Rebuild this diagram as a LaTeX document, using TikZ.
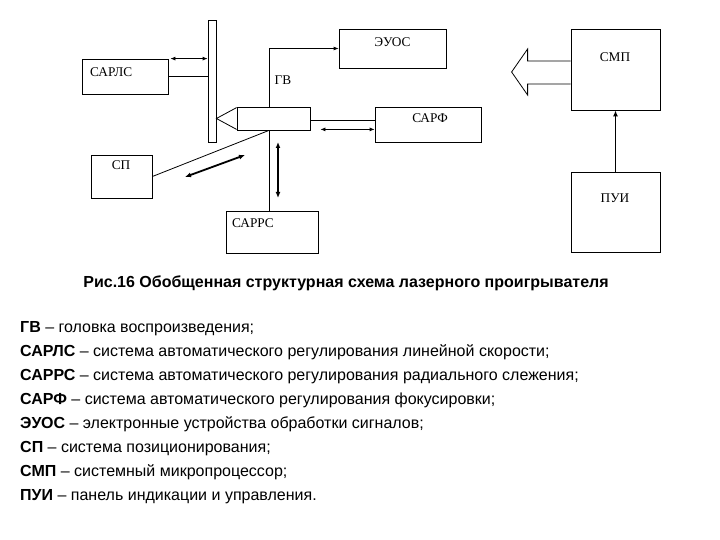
\documentclass[tikz,border=0pt]{standalone}
\usepackage{fontspec}
\setmainfont{Liberation Serif}
\setsansfont{Liberation Sans}
\usetikzlibrary{calc,arrows.meta}

\begin{document}
\begin{tikzpicture}[x=1pt, y=-1pt,
    box/.style={draw, thick, inner sep=0pt},
    lbl/.style={inner sep=0pt, font=\fontsize{13.3}{15}\selectfont},
    sig/.style={thick, -{Latex[length=5pt,width=4pt]}},
    dbl/.style={thick, {Latex[length=5pt,width=4pt]}-{Latex[length=5pt,width=4pt]}},
    fat/.style={line width=1.8pt, {Latex[length=6pt,width=5pt]}-{Latex[length=6pt,width=5pt]}},
    legend/.style={anchor=west, inner sep=0pt, text height=11.5pt, text depth=3.5pt, font=\sffamily\fontsize{16}{18}\selectfont}]
    \useasboundingbox (0,0) rectangle (720,540);

    % blocks
    \node[box, minimum width=8pt, minimum height=122pt] (disc) at (212,81) {};
    \node[box, minimum width=86pt, minimum height=35pt] (sarls) at (125,76.5) {};
    \node[box, minimum width=73pt, minimum height=23pt] (gv) at (273.5,118.5) {};
    \node[box, minimum width=107pt, minimum height=39pt] (euos) at (392.5,48.5) {};
    \node[box, minimum width=106pt, minimum height=35pt] (sarf) at (428,124.5) {};
    \node[box, minimum width=89pt, minimum height=81pt] (smp) at (615.5,69.5) {};
    \node[box, minimum width=89pt, minimum height=80pt] (pui) at (615.5,212) {};
    \node[box, minimum width=61pt, minimum height=43pt] (sp) at (121.5,176.5) {};
    \node[box, minimum width=92pt, minimum height=42pt] (sarrs) at (272,232) {};

    \node[lbl, anchor=west] at (90,72) {САРЛС};
    \node[lbl] at (283,80) {ГВ};
    \node[lbl] at (392.5,42) {ЭУОС};
    \node[lbl] at (430,118) {САРФ};
    \node[lbl] at (615,57) {СМП};
    \node[lbl] at (615,198) {ПУИ};
    \node[lbl] at (121,165) {СП};
    \node[lbl, anchor=west] at (232,223) {САРРС};

    % head and connections
    \coordinate (axis) at (269,0); \coordinate (spa) at (185,177); \coordinate (spb) at (245,155);
    \coordinate (pra) at (278,142); \coordinate (prb) at (278,198);
    \draw[thick] ($(gv.north west)+(0,1)$) -- (disc.east |- gv.west) -- ($(gv.south west)+(0,-1)$);
    \draw[dbl] ($(sarls.north east)+(2,0)$) -- (disc.west |- sarls.north);
    \draw[thick] (sarls.east) -- (disc.west |- sarls.east);
    \draw[sig] (gv.north -| axis) |- (euos.west);
    \draw[thick] ($(gv.east)+(0,1.5)$) -- ($(gv.east -| sarf.west)+(0,1.5)$);
    \draw[dbl] ($(gv.south east)+(10,-1)$) -- ($(gv.south -| sarf.west)+(0,-1)$);
    \draw[thick] (gv.south -| axis) -- (sp.east);
    \draw[thick] (gv.south -| axis) -- (sarrs.north -| axis);
    \draw[fat] (spa) -- (spb);
    \draw[fat] (pra) -- (prb);
    \draw[line width=1.8pt, -{Latex[length=6pt,width=5pt]}] (pui.north) -- (smp.south);
    \draw[thick] ($(smp.west)+(0,-8.5)$) -- ++(-43,0) -- ++(0,-12) -- ++(-16,23) -- ++(16,23) -- ++(0,-11) -- ++(43,0);

    % caption and legend
    \node[font=\sffamily\bfseries\fontsize{16}{18}\selectfont] (caption) at (346,283) {Рис.16 Обобщенная структурная схема лазерного проигрывателя};
    \foreach \key/\txt [count=\i from 0] in {ГВ/головка воспроизведения;,
        САРЛС/система автоматического регулирования линейной скорости;,
        САРРС/система автоматического регулирования радиального слежения;,
        САРФ/система автоматического регулирования фокусировки;,
        ЭУОС/электронные устройства обработки сигналов;,
        СП/система позиционирования;,
        СМП/системный микропроцессор;,
        ПУИ/панель индикации и управления.} {
        \node[legend] at (20,328+24*\i) {\textbf{\key} – \txt};
    }
\end{tikzpicture}
\end{document}
